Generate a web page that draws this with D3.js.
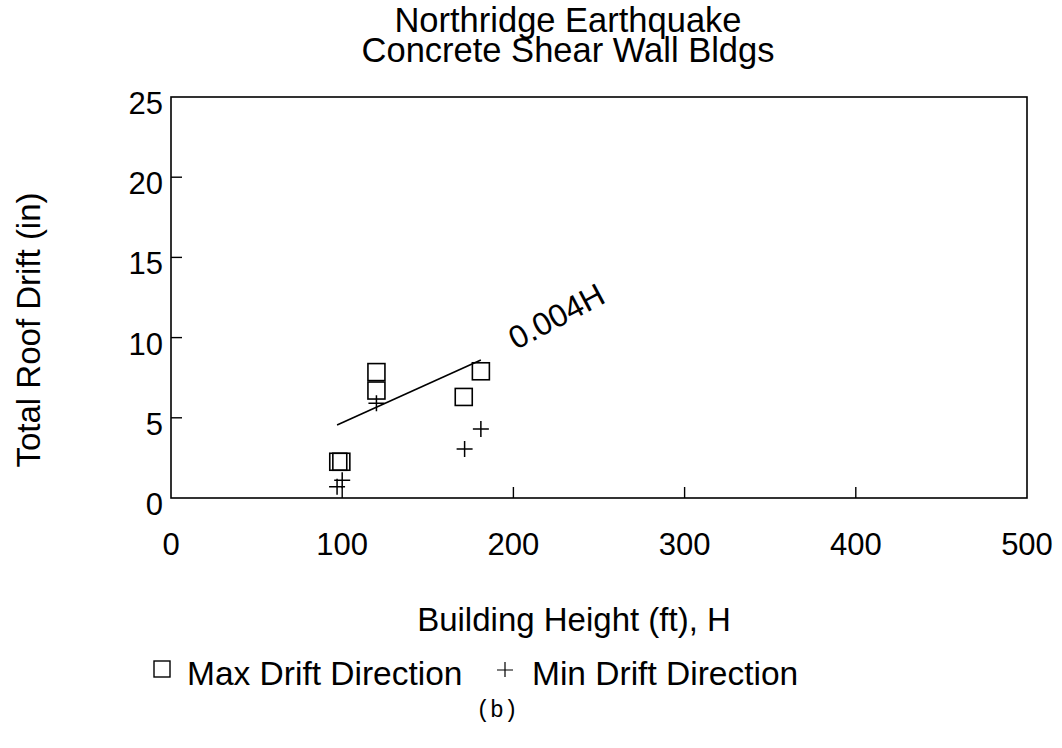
<!DOCTYPE html>
<html>
<head>
<meta charset="utf-8">
<script src="https://cdn.jsdelivr.net/npm/d3@7"></script>
<style>
  body { margin: 0; background: #fff; }
  text { font-family: "Liberation Sans", Arial, Helvetica, sans-serif; fill: #000; }
</style>
</head>
<body>
<script>
// data
const xTicks = [0, 100, 200, 300, 400, 500];
const yTicks = [0, 5, 10, 15, 20, 25];

const maxHeight = [97.7, 99.5, 120, 120, 171, 181];
const maxDrift  = [2.26, 2.26, 6.7, 7.85, 6.3, 7.9];

const minHeight = [97, 100, 120, 171.5, 181];
const minDrift  = [0.7, 1.1, 5.9, 3.05, 4.3];

const fitHeight = [97, 181];
const fitDrift  = [4.55, 8.6];

const margin = { top: 97, right: 35, bottom: 250, left: 171 },
      width = 1062 - margin.left - margin.right,
      height = 748 - margin.top - margin.bottom;

const svg = d3.select("body").append("svg")
    .attr("width", 1062)
    .attr("height", 748);

const g = svg.append("g")
    .attr("transform", `translate(${margin.left},${margin.top})`);

const x = d3.scaleLinear().domain([0, 500]).range([0, width]);
const y = d3.scaleLinear().domain([0, 25]).range([height, 0]);

// frame
g.append("rect")
    .attr("width", width)
    .attr("height", height)
    .style("fill", "none")
    .style("stroke", "#000")
    .style("stroke-width", 1.6);

// inward ticks
const tickLen = 11;
g.selectAll(".xtick")
    .data(xTicks.slice(1, -1))
    .join("line")
    .attr("x1", d => x(d)).attr("x2", d => x(d))
    .attr("y1", height).attr("y2", height - tickLen)
    .style("stroke", "#000").style("stroke-width", 1.4);

g.selectAll(".ytick")
    .data(yTicks.slice(1, -1))
    .join("line")
    .attr("x1", 0).attr("x2", tickLen)
    .attr("y1", d => y(d)).attr("y2", d => y(d))
    .style("stroke", "#000").style("stroke-width", 1.4);

// tick labels
g.selectAll(".xlab")
    .data(xTicks)
    .join("text")
    .attr("x", d => x(d))
    .attr("y", height + 57)
    .attr("text-anchor", "middle")
    .style("font-size", "31px")
    .text(d => d);

g.selectAll(".ylab")
    .data(yTicks)
    .join("text")
    .attr("x", -8)
    .attr("y", d => y(d) + 17)
    .attr("text-anchor", "end")
    .style("font-size", "31px")
    .text(d => d);

// fitted line 0.004H
g.append("path")
    .datum(d3.zip(fitHeight, fitDrift))
    .attr("d", d3.line().x(d => x(d[0])).y(d => y(d[1])))
    .style("fill", "none")
    .style("stroke", "#000")
    .style("stroke-width", 1.6);

g.append("text")
    .attr("transform", `translate(${x(225)},${y(11.35)}) rotate(-28)`)
    .attr("text-anchor", "middle")
    .attr("dy", "0.36em")
    .style("font-size", "32px")
    .text("0.004H");

// max drift squares
const sq = 17;
g.selectAll(".sq")
    .data(d3.zip(maxHeight, maxDrift))
    .join("rect")
    .attr("x", d => x(d[0]) - sq / 2)
    .attr("y", d => y(d[1]) - sq / 2)
    .attr("width", sq).attr("height", sq)
    .style("fill", "none")
    .style("stroke", "#000")
    .style("stroke-width", 1.6);

// min drift pluses
const arm = 8;
g.selectAll(".plus")
    .data(d3.zip(minHeight, minDrift))
    .join("path")
    .attr("d", d => {
        const px = x(d[0]), py = y(d[1]);
        return `M${px - arm},${py}H${px + arm}M${px},${py - arm}V${py + arm}`;
    })
    .style("fill", "none")
    .style("stroke", "#000")
    .style("stroke-width", 1.5);

// title
svg.append("text")
    .attr("x", 568).attr("y", 32)
    .attr("text-anchor", "middle")
    .style("font-size", "34.5px")
    .text("Northridge Earthquake");
svg.append("text")
    .attr("x", 568).attr("y", 62)
    .attr("text-anchor", "middle")
    .style("font-size", "34.5px")
    .text("Concrete Shear Wall Bldgs");

// axis titles
svg.append("text")
    .attr("transform", "translate(40,330) rotate(-90)")
    .attr("text-anchor", "middle")
    .style("font-size", "33px")
    .text("Total Roof Drift (in)");

svg.append("text")
    .attr("x", 574).attr("y", 631)
    .attr("text-anchor", "middle")
    .style("font-size", "33px")
    .text("Building Height (ft), H");

// legend
const legend = svg.append("g");
legend.append("rect")
    .attr("x", 154).attr("y", 661)
    .attr("width", 16).attr("height", 16)
    .style("fill", "none").style("stroke", "#000").style("stroke-width", 1.4);
legend.append("text")
    .attr("x", 187).attr("y", 685)
    .style("font-size", "33.5px")
    .text("Max Drift Direction");
legend.append("path")
    .attr("d", "M497,670H513M505,662V677")
    .style("stroke", "#000").style("stroke-width", 1.2);
legend.append("text")
    .attr("x", 532).attr("y", 685)
    .style("font-size", "33.5px")
    .text("Min Drift Direction");

svg.append("text")
    .attr("x", 497).attr("y", 717)
    .attr("text-anchor", "middle")
    .style("font-family", "'Liberation Mono', 'DejaVu Sans Mono', monospace")
    .style("font-size", "23px")
    .text("(b)");
</script>
</body>
</html>
